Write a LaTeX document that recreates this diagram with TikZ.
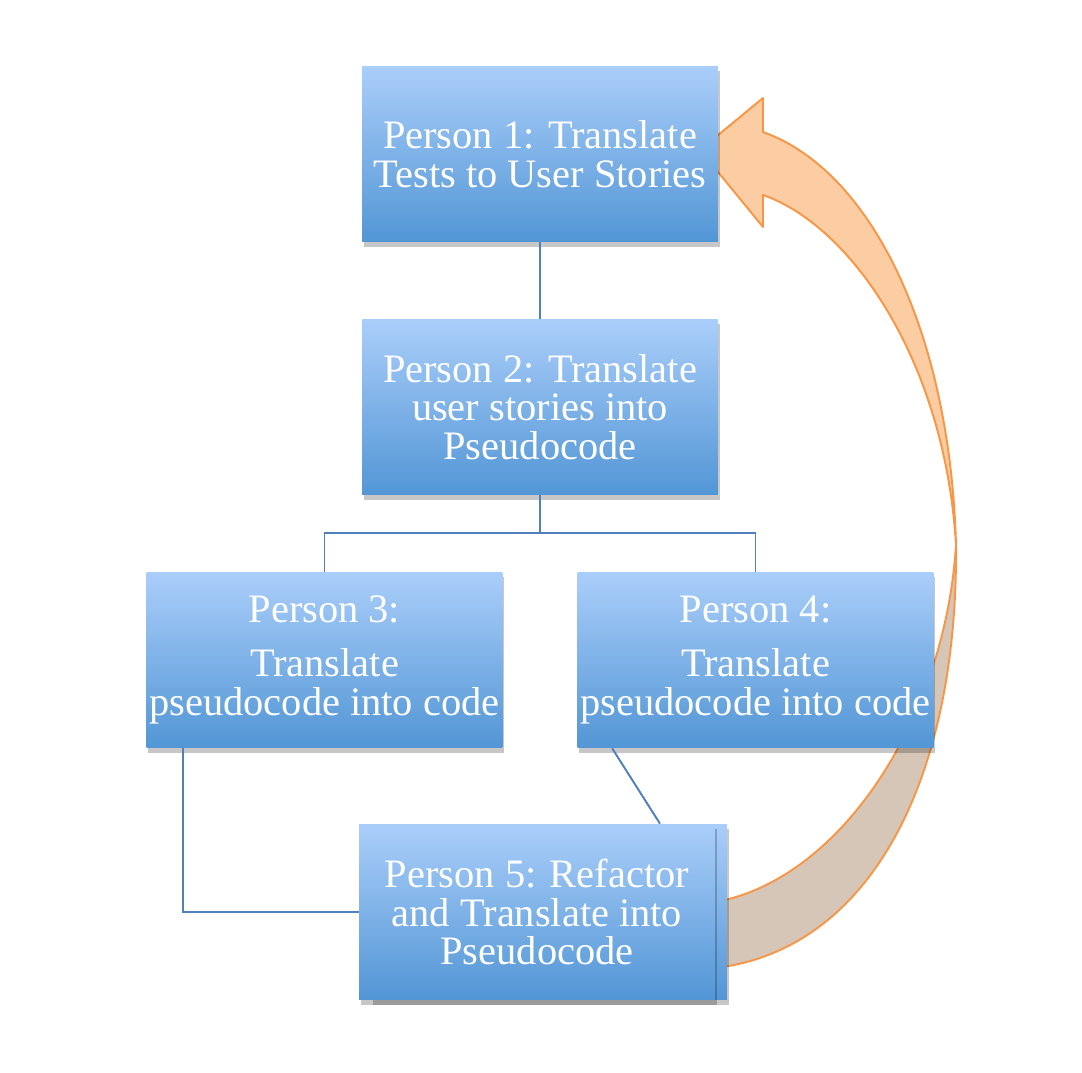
\documentclass[tikz,border=0pt]{standalone}
\usepackage{fontspec}
\setmainfont{Liberation Serif}
\usepackage{tikz}
\usetikzlibrary{shadows}
\definecolor{boxtop}{RGB}{170,206,250}
\definecolor{boxbottom}{RGB}{82,150,213}
\definecolor{linkblue}{RGB}{79,129,189}
\definecolor{arrowfront}{RGB}{252,205,163}
\definecolor{arrowback}{RGB}{214,198,184}
\definecolor{arrowline}{RGB}{247,150,70}
\tikzset{
person/.style={rectangle, minimum width=7.12cm, minimum height=3.52cm, inner sep=0pt,
  top color=boxtop, bottom color=boxbottom, text=white, align=center,
  font=\fontsize{23}{22}\selectfont,
  drop shadow={shadow xshift=1pt, shadow yshift=-3pt, opacity=0.22, fill=black}},
link/.style={draw=linkblue, line width=1.1pt},
bendarrow/.style={draw=arrowline, line width=1.1pt, line join=round}
}

\begin{document}
\begin{tikzpicture}[x=0.02cm,y=-0.02cm]
\useasboundingbox (0,0) rectangle (1082,1072);
\fill[white] (0,0) rectangle (1082,1072);
\draw[bendarrow, fill=arrowback] (956,545) .. controls (958,780) and (870,950) .. (715,968) -- (715,902) .. controls (840,880) and (945,720) .. (956,545) -- cycle;
\draw[bendarrow, fill=arrowfront] (700,150) -- (763,98) -- (763,132) .. controls (870,170) and (950,330) .. (956,545) .. controls (945,360) and (850,225) .. (763,195) -- (763,227) -- cycle;
\node[person] (p1) at (540,154) {Person 1: Translate\\Tests to User Stories};
\node[person] (p2) at (540,407) {Person 2: Translate\\user stories into\\Pseudocode};
\node[person] (p3) at (324.5,660) {Person 3:\\[9pt]Translate\\pseudocode into code};
\node[person] (p4) at (755.5,660) {Person 4:\\[9pt]Translate\\pseudocode into code};
\node[person] (p5back) at (549,912) {};
\node[person] (p5) at (537,912) {Person 5: Refactor\\and Translate into\\Pseudocode};
\draw[link] (p1.south) -- (p2.north);
\draw[link] (p2.south) -- ++(0,38) -| (p3.north);
\draw[link] (p2.south) -- ++(0,38) -| (p4.north);
\draw[link] ([xshift=0.73cm]p3.south west) |- (p5.west);
\draw[link] ([xshift=0.7cm]p4.south west) -- ([xshift=2.46cm]p5.north);
\end{tikzpicture}
\end{document}
